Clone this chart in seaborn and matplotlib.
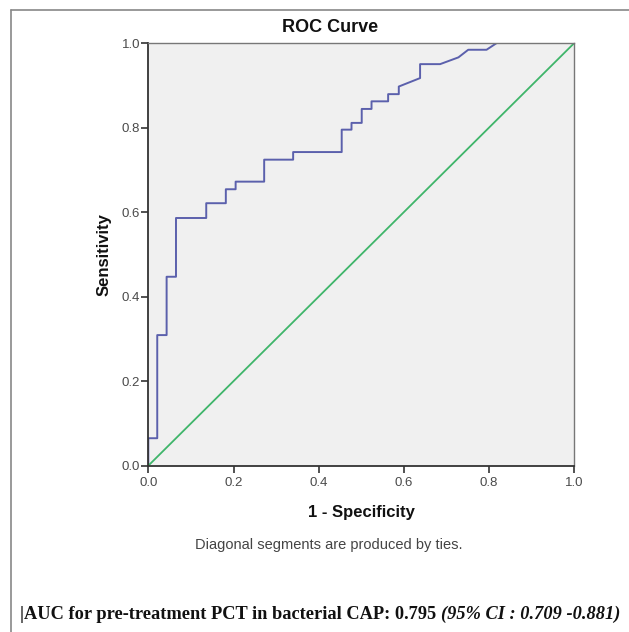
import matplotlib
matplotlib.use("Agg")
import matplotlib.pyplot as plt
from matplotlib.lines import Line2D
import pandas as pd
import seaborn as sns

# ROC curve points (1 - specificity, sensitivity)
fpr = [0.0, 0.0, 0.021, 0.021, 0.043, 0.043, 0.065, 0.065, 0.136, 0.136,
       0.182, 0.182, 0.205, 0.205, 0.272, 0.272, 0.340, 0.340, 0.454, 0.454,
       0.477, 0.477, 0.501, 0.501, 0.524, 0.524, 0.563, 0.563, 0.588, 0.588,
       0.638, 0.638, 0.685, 0.728, 0.751, 0.794, 0.818, 1.0]
tpr = [0.0, 0.065, 0.065, 0.309, 0.309, 0.447, 0.447, 0.586, 0.586, 0.621,
       0.621, 0.654, 0.654, 0.672, 0.672, 0.724, 0.724, 0.742, 0.742, 0.795,
       0.795, 0.811, 0.811, 0.844, 0.844, 0.862, 0.862, 0.879, 0.879, 0.897,
       0.917, 0.950, 0.950, 0.966, 0.984, 0.984, 1.0, 1.0]
ref_x = [0.0, 1.0]
ref_y = [0.0, 1.0]
ticks = [0.0, 0.2, 0.4, 0.6, 0.8, 1.0]
tick_labels = ["0.0", "0.2", "0.4", "0.6", "0.8", "1.0"]

roc = pd.DataFrame({"fpr": fpr, "tpr": tpr})
ref = pd.DataFrame({"fpr": ref_x, "tpr": ref_y})

sns.set_style("ticks")
plt.rcParams["font.family"] = ["Liberation Sans", "DejaVu Sans"]

W, H = 629, 632
fig = plt.figure(figsize=(6.29, 6.32), dpi=100)
ax = fig.add_axes([148.3 / W, 1 - 465.7 / H, 426 / W, 422.7 / H])
ax.set_facecolor("#f0f0f0")

sns.lineplot(data=roc, x="fpr", y="tpr", sort=False, estimator=None,
             color="#5b60ac", linewidth=1.4, ax=ax)
sns.lineplot(data=ref, x="fpr", y="tpr", sort=False, estimator=None,
             color="#3fb56a", linewidth=1.3, ax=ax)

ax.set_xlim(0, 1)
ax.set_ylim(0, 1)
ax.set_xticks(ticks)
ax.set_xticklabels(tick_labels)
ax.set_yticks(ticks)
ax.set_yticklabels(tick_labels)
ax.tick_params(direction="out", length=5, width=1.2, color="#333333",
               labelsize=9.5, labelcolor="#4a4a4a")
ax.tick_params(axis="x", pad=3)
ax.tick_params(axis="y", pad=1)
for side in ["left", "bottom"]:
    ax.spines[side].set_color("#333333")
    ax.spines[side].set_linewidth(1.3)
for side in ["top", "right"]:
    ax.spines[side].set_visible(True)
    ax.spines[side].set_color("#777777")
    ax.spines[side].set_linewidth(1.0)

ax.set_xlabel("1 - Specificity", fontsize=12, fontweight="bold", labelpad=12, color="#111111")
ax.set_ylabel("Sensitivity", fontsize=12, fontweight="bold", labelpad=7, color="#111111")

# SPSS centres title and footnote over the whole chart area
fig.text(330.5 / W, 1 - 28 / H, "ROC Curve", ha="center", va="center",
         fontsize=13, fontweight="bold", color="#111111")
fig.text(329 / W, 1 - 545 / H, "Diagonal segments are produced by ties.",
         ha="center", va="center", fontsize=10.5, color="#444444")

# frame around the figure (top and left edges visible)
fig.add_artist(Line2D([11 / W, 11 / W], [0, 1 - 10 / H], color="#888888", lw=1.2))
fig.add_artist(Line2D([11 / W, 1], [1 - 10 / H, 1 - 10 / H], color="#888888", lw=1.2))

# bottom annotation: bold part then bold italic part
serif = ["Liberation Serif", "DejaVu Serif"]
t1 = fig.text(20 / W, 1 - 619 / H, "|AUC for pre-treatment PCT in bacterial CAP: 0.795 ",
              ha="left", va="baseline", fontsize=13.2, fontweight="bold",
              family=serif, color="#111111")
fig.canvas.draw()
bb = t1.get_window_extent()
fig.text(bb.x1 / fig.bbox.width, 1 - 619 / H, "(95% CI : 0.709 -0.881)",
         ha="left", va="baseline", fontsize=13.2, fontweight="bold", style="italic",
         family=serif, color="#111111")

fig.savefig("out.png", dpi=100)
